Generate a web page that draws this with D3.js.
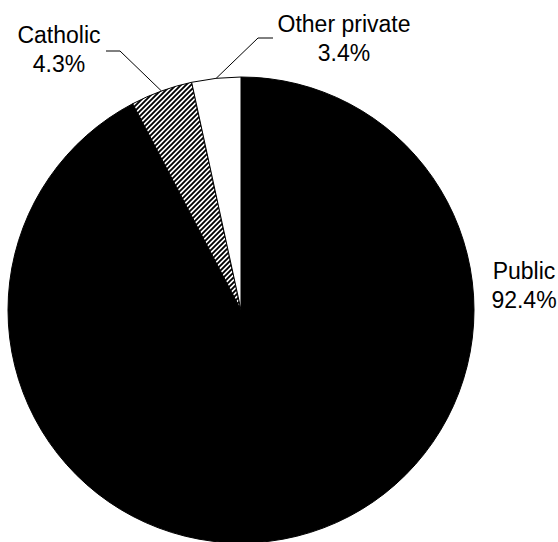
<!DOCTYPE html>
<html><head><meta charset="utf-8">
<script src="https://cdn.jsdelivr.net/npm/d3@7"></script>
<style>html,body{margin:0;padding:0;background:#fff;}svg{display:block;}</style>
</head><body>
<script>
const categories = ["Public", "Catholic", "Other private"];
const values = [92.4, 4.3, 3.4];
const valueLabels = ["92.4%", "4.3%", "3.4%"];

const W = 558, H = 542;
const cx = 241, cy = 310, R = 233;
const svg = d3.select("body").append("svg").attr("width", W).attr("height", H);

const defs = svg.append("defs");
const pat = defs.append("pattern").attr("id", "hatch").attr("patternUnits", "userSpaceOnUse")
  .attr("width", 5).attr("height", 5);
pat.append("rect").attr("width", 5).attr("height", 5).attr("fill", "#fff");
pat.append("path").attr("d", "M-1.25,1.25 l2.5,-2.5 M0,5 l5,-5 M3.75,6.25 l2.5,-2.5")
  .attr("stroke", "#000").attr("stroke-width", 1.9);

const fills = ["#000", "url(#hatch)", "#fff"];
const data = categories.map((c, i) => ({cat: c, value: values[i], label: valueLabels[i], fill: fills[i]}));

const pie = d3.pie().value(d => d.value).sort(null);
const arc = d3.arc().innerRadius(0).outerRadius(R);
const arcs = pie(data);

const g = svg.append("g").attr("transform", `translate(${cx},${cy})`);
g.selectAll("path.slice").data(arcs).enter().append("path")
  .attr("class", "slice")
  .attr("d", arc)
  .attr("fill", d => d.data.fill)
  .attr("stroke", "#000").attr("stroke-width", 1);

// label layout (relative to pie centre)
const layout = {
  "Public":        {tx: 283, ty: -31, anchor: "middle", leader: null},
  "Catholic":      {tx: -182, ty: -267, anchor: "middle", leader: {elbow: [-121, -259], end: [-135, -259]}},
  "Other private": {tx: 103, ty: -278, anchor: "middle", leader: {elbow: [17, -272], end: [32, -272]}}
};

arcs.forEach(a => {
  const L = layout[a.data.cat];
  const mid = (a.startAngle + a.endAngle) / 2;
  if (L.leader) {
    const p0 = [Math.sin(mid) * R, -Math.cos(mid) * R];
    g.append("polyline")
      .attr("points", [p0, L.leader.elbow, L.leader.end].map(p => p.join(",")).join(" "))
      .attr("fill", "none").attr("stroke", "#000").attr("stroke-width", 1);
  }
  const t = g.append("text").attr("text-anchor", L.anchor)
    .attr("font-family", "'Liberation Sans', Arial, sans-serif").attr("font-size", 23).attr("fill", "#000");
  t.append("tspan").attr("x", L.tx).attr("y", L.ty).text(a.data.cat);
  t.append("tspan").attr("x", L.tx).attr("y", L.ty + 29).text(a.data.label);
});
</script>
</body></html>
